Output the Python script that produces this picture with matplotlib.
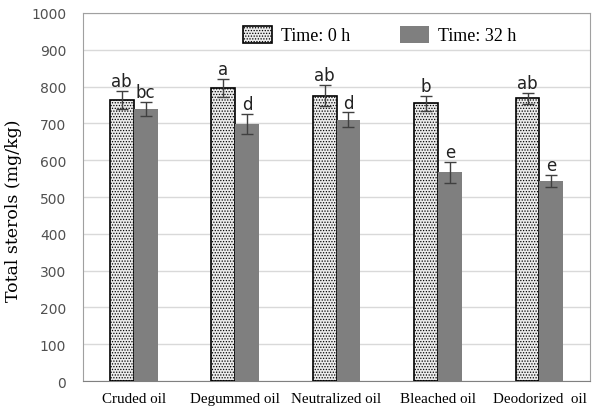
import numpy as np
import matplotlib.pyplot as plt

# data
oils = ['Cruded oil', 'Degummed oil', 'Neutralized oil', 'Bleached oil', 'Deodorized  oil']
t0 = [763, 796, 775, 755, 768]
t0_err = [25, 24, 29, 20, 15]
t32 = [739, 698, 710, 567, 543]
t32_err = [19, 27, 20, 28, 17]
t0_letters = ['ab', 'a', 'ab', 'b', 'ab']
t32_letters = ['bc', 'd', 'd', 'e', 'e']

plt.rcParams['hatch.linewidth'] = 0.6

fig = plt.figure(figsize=(6.01, 4.10), dpi=100)
ax = fig.add_axes([0.138, 0.068, 0.844, 0.898])

x = np.arange(len(oils))
w = 0.235

ax.bar(x - w/2, t0, w, facecolor='#ececec', edgecolor='black', hatch='......',
       linewidth=1.2, label='Time: 0 h', zorder=3)
ax.bar(x + w/2, t32, w, color='#7f7f7f', label='Time: 32 h', zorder=3)
ax.errorbar(x - w/2, t0, yerr=t0_err, fmt='none', ecolor='#404040',
            elinewidth=1, capsize=4, zorder=4)
ax.errorbar(x + w/2, t32, yerr=t32_err, fmt='none', ecolor='#404040',
            elinewidth=1, capsize=4, zorder=4)

# significance letters
for i in range(len(oils)):
    ax.text(x[i] - w/2, t0[i] + t0_err[i] + 2, t0_letters[i], ha='center', va='bottom',
            fontsize=12, family='Liberation Sans Narrow', color='#222222')
    ax.text(x[i] + w/2, t32[i] + t32_err[i] + 2, t32_letters[i], ha='center', va='bottom',
            fontsize=12, family='Liberation Sans Narrow', color='#222222')

ax.set_xlim(-0.5, len(oils) - 0.5)
ax.set_ylim(0, 1000)
ax.set_yticks(range(0, 1001, 100))
ax.yaxis.grid(True, color='#d9d9d9', linewidth=1, zorder=0)
ax.set_axisbelow(True)

ax.set_xticks(x)
ax.set_xticklabels(oils, family='Liberation Serif', fontsize=10.8)
ax.tick_params(axis='x', length=0, pad=8)
ax.tick_params(axis='y', length=0, pad=12, labelsize=10, labelcolor='#505050')
for lab in ax.get_yticklabels():
    lab.set_family('Liberation Sans Narrow')

for s in ax.spines.values():
    s.set_color('#a0a0a0')
ax.spines['bottom'].set_color('#808080')

ax.set_ylabel('Total sterols (mg/kg)', family='DejaVu Serif', fontsize=12.5)
ax.yaxis.set_label_coords(-0.12, 0.465)

ax.legend(loc='upper center', bbox_to_anchor=(0.585, 1.01), ncol=2, frameon=False,
          prop={'family': 'Liberation Serif', 'size': 13}, columnspacing=2.8,
          handlelength=1.6, handleheight=1.1, handletextpad=0.5)

fig.savefig('out.png', dpi=100)
